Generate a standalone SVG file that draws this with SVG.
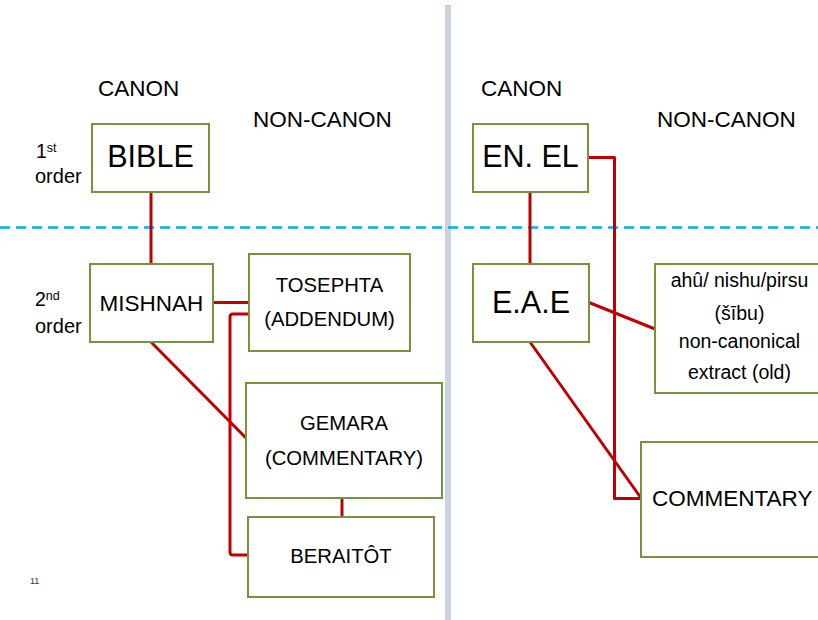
<svg xmlns="http://www.w3.org/2000/svg" width="818" height="620" viewBox="0 0 818 620">
<style>
  text { font-family: "Liberation Sans", Arial, sans-serif; fill: #000; }
  .box { fill: #fff; stroke: #77933c; stroke-width: 2; }
  .conn { fill: none; stroke: #c00000; stroke-width: 3; stroke-linejoin: round; }
  .hdr { font-size: 22.5px; }
  .mid { text-anchor: middle; }
</style>
<rect width="818" height="620" fill="#fff"/>
<rect x="445" y="5" width="6" height="615" fill="#c8d3df"/>
<line x1="0" y1="227.5" x2="818" y2="227.5" stroke="#00b0f0" stroke-width="2.5" stroke-dasharray="10,6"/>

<g id="labels">
  <text class="hdr" x="98" y="96">CANON</text>
  <text class="hdr" x="253" y="127">NON-CANON</text>
  <text class="hdr" x="481" y="96">CANON</text>
  <text class="hdr" x="657" y="127">NON-CANON</text>
  <text x="36" y="158" font-size="19.5">1<tspan font-size="12.5" dy="-6">st</tspan></text>
  <text x="35" y="183" font-size="20">order</text>
  <text x="35" y="306" font-size="19.5">2<tspan font-size="12.5" dy="-6">nd</tspan></text>
  <text x="35" y="333" font-size="20">order</text>
  <text x="30" y="584" font-size="9" style="fill:#17375e">11</text>
</g>

<g id="connectors">
  <line class="conn" x1="151" y1="192" x2="151" y2="264"/>
  <line class="conn" x1="213" y1="302.5" x2="249" y2="302.5"/>
  <path class="conn" d="M249 314 L233 314 Q230 314 230 317 L230 552 Q230 555 233 555 L248 555"/>
  <line class="conn" x1="151" y1="342" x2="246" y2="438"/>
  <line class="conn" x1="342" y1="498" x2="342" y2="517"/>
  <line class="conn" x1="530" y1="192" x2="530" y2="264"/>
  <path class="conn" d="M588 157.5 L614.5 157.5 L614.5 498.5 L641 498.5"/>
  <line class="conn" x1="589" y1="302.5" x2="655" y2="329"/>
  <line class="conn" x1="530" y1="342" x2="641" y2="498"/>
</g>

<g id="bible">
  <rect class="box" x="92" y="124" width="117" height="68"/>
  <text class="mid" x="150.5" y="167" font-size="30.5">BIBLE</text>
</g>
<g id="mishnah">
  <rect class="box" x="90" y="264" width="123" height="78"/>
  <text class="mid" x="151.5" y="311" font-size="22.5">MISHNAH</text>
</g>
<g id="tosephta">
  <rect class="box" x="249" y="254" width="161" height="97"/>
  <text class="mid" x="329.5" y="292" font-size="20.3">TOSEPHTA</text>
  <text class="mid" x="329.5" y="326" font-size="20.3">(ADDENDUM)</text>
</g>
<g id="gemara">
  <rect class="box" x="246" y="383" width="196" height="115"/>
  <text class="mid" x="344" y="430" font-size="20.3">GEMARA</text>
  <text class="mid" x="344" y="465" font-size="20.3">(COMMENTARY)</text>
</g>
<g id="beraitot">
  <rect class="box" x="248" y="517" width="186" height="80"/>
  <text class="mid" x="341" y="563" font-size="20.3">BERAITÔT</text>
</g>
<g id="enel">
  <rect class="box" x="473" y="124" width="115" height="68"/>
  <text class="mid" x="530.5" y="167" font-size="30.5">EN. EL</text>
</g>
<g id="eae">
  <rect class="box" x="473" y="264" width="116" height="78"/>
  <text class="mid" x="531" y="313" font-size="30.5">E.A.E</text>
</g>
<g id="ahu">
  <rect class="box" x="655" y="264" width="175" height="129"/>
  <text class="mid" x="739.5" y="287" font-size="19.5">ahû/ nishu/pirsu</text>
  <text class="mid" x="739.5" y="320" font-size="19.5">(šību)</text>
  <text class="mid" x="739.5" y="348" font-size="19.5">non-canonical</text>
  <text class="mid" x="739.5" y="379" font-size="19.5">extract (old)</text>
</g>
<g id="commentary">
  <rect class="box" x="641" y="442" width="200" height="115"/>
  <text x="652" y="506" font-size="22.5">COMMENTARY</text>
</g>
</svg>
